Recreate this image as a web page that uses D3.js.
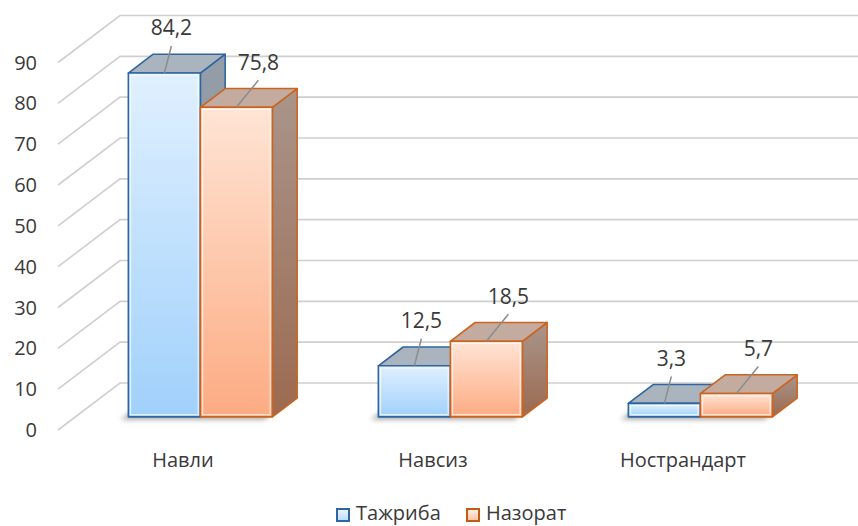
<!DOCTYPE html>
<html>
<head>
<meta charset="utf-8">
<script src="https://cdn.jsdelivr.net/npm/d3@7"></script>
<style>
  html, body { margin: 0; padding: 0; background: #ffffff; }
  svg { display: block; font-family: "Open Sans", "DejaVu Sans", sans-serif; }
</style>
</head>
<body>
<svg id="chart" width="858" height="526"></svg>
<script>
// Categories, series and values
const categories = ["Навли", "Навсиз", "Нострандарт"];
const seriesNames = ["Тажриба", "Назорат"];
const tajriba = [84.2, 12.5, 3.3];
const nazorat = [75.8, 18.5, 5.7];
const yTicks = [0, 10, 20, 30, 40, 50, 60, 70, 80, 90];

const seriesValues = [tajriba, nazorat];

const svg = d3.select("#chart");
const W = 858, H = 526;
const textColor = "#3a3a3a";

// 3D floor depth offset (front edge -> back wall)
const DX = 62, DY = -47;
// bar occupies this depth slice of the floor (0 = front, 1 = back wall)
const zFront = 0.28, zBack = 0.68;

const x = d3.scaleBand().domain(categories).range([58, 808]).padding(0);
const y = d3.scaleLinear().domain([0, 90]).range([430, 62.5]);
const groupW = x.bandwidth() * 0.576;
const xs = d3.scaleBand().domain(seriesNames).range([0, groupW]);

// project (front-plane x, value, depth) to screen
const P = (px, v, z) => [px + z * DX, y(v) + z * DY];

const style = [
  { stroke: "#2f65a0", top: "#aab4be", lc: "#2f65a0" },
  { stroke: "#cc6420", top: "#c3aba0", lc: "#c55a11" }
];
const labelDx = [7, 22];

const defs = svg.append("defs");
function vgrad(id, stops) {
  const g = defs.append("linearGradient").attr("id", id)
    .attr("x1", 0).attr("y1", 0).attr("x2", 0).attr("y2", 1);
  stops.forEach(([o, c]) => g.append("stop").attr("offset", o).attr("stop-color", c));
}
vgrad("gBlue", [[0, "#e0f0ff"], [1, "#a0d0fb"]]);
vgrad("gOrange", [[0, "#ffe4d5"], [1, "#fcab82"]]);
vgrad("sideBlue", [[0, "#939ea9"], [1, "#87929d"]]);
vgrad("sideOrange", [[0, "#a9958b"], [1, "#9c6a50"]]);
vgrad("legBlue", [[0, "#eef6ff"], [1, "#b6dbfc"]]);
vgrad("legOrange", [[0, "#fff0e8"], [1, "#fcc3a5"]]);
const frontIds = ["gBlue", "gOrange"];
const sideIds = ["sideBlue", "sideOrange"];

defs.append("filter").attr("id", "soft").attr("x", "-20%").attr("y", "-50%")
  .attr("width", "140%").attr("height", "200%")
  .append("feGaussianBlur").attr("stdDeviation", 2.5);

// gridlines: side wall diagonals + back wall horizontals
const grid = svg.append("g").attr("fill", "none").attr("stroke", "#cfcfcf").attr("stroke-width", 1.6);
yTicks.forEach(t => {
  const [fx, fy] = P(58, t, 0);
  const [bx, by] = P(58, t, 1);
  grid.append("path").attr("d", `M${fx},${fy}L${bx},${by}L${W + 20},${by}`);
});

// y tick labels
svg.append("g").selectAll("text").data(yTicks).join("text")
  .attr("x", 37).attr("y", d => y(d)).attr("dy", "0.35em")
  .attr("text-anchor", "end").attr("font-size", 20).attr("fill", textColor)
  .text(d => d);

const poly = pts => "M" + pts.map(p => p.join(",")).join("L") + "Z";

// floor shadows under each group
const shadowG = svg.append("g").attr("filter", "url(#soft)").attr("opacity", 0.55);
categories.forEach(c => {
  const x0 = x(c) + (x.bandwidth() - groupW) / 2, x1 = x0 + groupW;
  const pts = [P(x0, 0, zFront), P(x1, 0, zFront), P(x1, 0, zBack), P(x0, 0, zBack)]
    .map(([a, b]) => [a - 8, b + 3]);
  shadowG.append("path").attr("d", poly(pts)).attr("fill", "#6a6a6a");
});

// bars
const bars = svg.append("g");
const labels = [];
categories.forEach((c, ci) => {
  const gx = x(c) + (x.bandwidth() - groupW) / 2;
  seriesNames.forEach((s, si) => {
    const v = seriesValues[si][ci];
    const x0 = gx + xs(s), x1 = x0 + xs.bandwidth();
    const st = style[si];
    const ftl = P(x0, v, zFront), ftr = P(x1, v, zFront);
    const fbl = P(x0, 0, zFront), fbr = P(x1, 0, zFront);
    const btl = P(x0, v, zBack), btr = P(x1, v, zBack), bbr = P(x1, 0, zBack);
    const g = bars.append("g").attr("stroke", st.stroke).attr("stroke-width", 1.6)
      .attr("stroke-linejoin", "round");
    g.append("path").attr("d", poly([ftr, btr, bbr, fbr])).attr("fill", `url(#${sideIds[si]})`);
    g.append("path").attr("d", poly([ftl, ftr, btr, btl])).attr("fill", st.top);
    g.append("path").attr("d", poly([ftl, ftr, fbr, fbl])).attr("fill", `url(#${frontIds[si]})`);
    // inner bevel highlight
    const hgt = fbl[1] - ftl[1];
    if (hgt > 6) {
      g.append("rect").attr("x", ftl[0] + 2.2).attr("y", ftl[1] + 2.2)
        .attr("width", x1 - x0 - 4.4).attr("height", hgt - 4.4)
        .attr("fill", "none").attr("stroke", "#ffffff").attr("stroke-opacity", 0.7).attr("stroke-width", 1.2);
    }
    const fc = [(ftl[0] + ftr[0]) / 2, ftl[1]];
    labels.push({ v, fc, cx: fc[0] + labelDx[si], cy: fc[1] - 45 });
  });
});

// value labels with leader lines
const lab = svg.append("g");
labels.forEach(d => {
  lab.append("line").attr("x1", d.cx).attr("y1", d.cy + 18).attr("x2", d.fc[0]).attr("y2", d.fc[1])
    .attr("stroke", "#8c8c8c").attr("stroke-width", 1.5);
  lab.append("text").attr("x", d.cx).attr("y", d.cy).attr("dy", "0.35em")
    .attr("text-anchor", "middle").attr("font-size", 21).attr("fill", textColor)
    .text(d3.format(".1f")(d.v).replace(".", ","));
});

// category labels along the front edge of the floor
svg.append("g").selectAll("text").data(categories).join("text")
  .attr("x", d => x(d) + x.bandwidth() / 2).attr("y", 467)
  .attr("text-anchor", "middle").attr("font-size", 20).attr("fill", textColor)
  .text(d => d);

// legend
const legItems = [
  { name: seriesNames[0], x: 336, fill: "url(#legBlue)", stroke: style[0].lc },
  { name: seriesNames[1], x: 466, fill: "url(#legOrange)", stroke: style[1].lc }
];
const leg = svg.append("g");
legItems.forEach(d => {
  leg.append("rect").attr("x", d.x + 1).attr("y", 509).attr("width", 12).attr("height", 12)
    .attr("fill", d.fill).attr("stroke", d.stroke).attr("stroke-width", 2);
  leg.append("text").attr("x", d.x + 20).attr("y", 520).attr("font-size", 20).attr("fill", textColor)
    .text(d.name);
});
</script>
</body>
</html>
